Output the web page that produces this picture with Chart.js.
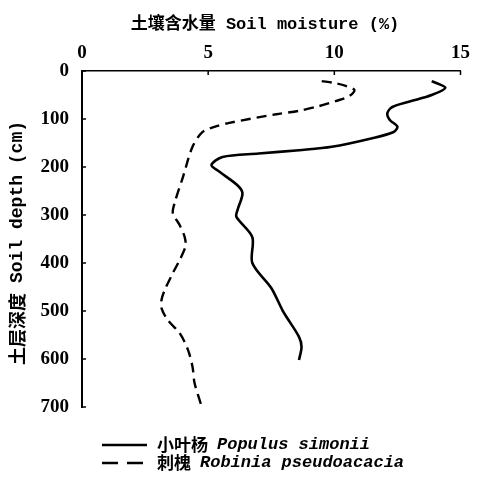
<!DOCTYPE html>
<html>

<head>
    <title>Soil moisture profile</title>
    <script src="https://cdn.jsdelivr.net/npm/chart.js@4/dist/chart.umd.min.js"></script>
    <style>
        body { margin: 0; background: #fff; }
    </style>
</head>

<body>
    <div style="width: 477px; height: 485px;">
        <canvas id="ctx"></canvas>
    </div>

    <script>
        // depth (cm) and soil moisture (%)
        const populusDepth = [21, 35, 50, 64, 75, 88, 102, 116, 127, 140, 158, 165, 172, 179, 196, 210, 238, 255, 290, 304, 346, 400, 452, 498, 512, 554, 575, 602];
        const populusMoisture = [13.86, 14.4, 13.86, 12.95, 12.3, 12.1, 12.2, 12.5, 12.35, 11.5, 9.9, 8.6, 7.0, 5.57, 5.13, 5.45, 6.16, 6.36, 6.16, 6.12, 6.75, 6.75, 7.5, 7.94, 8.1, 8.6, 8.7, 8.6];

        const robiniaDepth = [21, 25, 31, 40, 52, 62, 73, 83, 90, 108, 115, 127, 158, 221, 275, 296, 321, 346, 365, 394, 421, 456, 477, 494, 519, 546, 581, 616, 650, 700];
        const robiniaMoisture = [9.5, 10.0, 10.45, 10.8, 10.6, 10.1, 9.4, 8.6, 7.7, 5.84, 5.33, 4.78, 4.38, 4.0, 3.67, 3.6, 3.87, 4.07, 4.1, 3.87, 3.6, 3.28, 3.15, 3.15, 3.4, 3.87, 4.2, 4.38, 4.46, 4.75];

        const xTicks = [0, 5, 10, 15];
        const yTicks = [0, 100, 200, 300, 400, 500, 600, 700];

        const xTitle = '土壤含水量 Soil moisture (%)';
        const yTitleCn = '土层深度';
        const yTitleLatin = 'Soil depth (cm)';
        const legendItems = [
            { cn: '小叶杨', latin: 'Populus simonii', dash: [] },
            { cn: '刺槐', latin: 'Robinia pseudoacacia', dash: [16, 9] }
        ];

        const toPoints = (depth, moisture) => depth.map((d, i) => ({ x: moisture[i], y: d }));

        const mono = size => 'bold ' + size + 'px "Liberation Mono", "Noto Sans CJK SC", monospace';
        const monoItalic = 'bold italic 17px "Liberation Mono", monospace';
        const cjk = size => 'bold ' + size + 'px "Noto Sans CJK SC", sans-serif';

        // titles, inward ticks and the two-line legend
        const extras = {
            id: 'extras',
            afterDraw(chart) {
                const c = chart.ctx;
                const area = chart.chartArea;
                const xs = chart.scales.x;
                const ys = chart.scales.y;
                c.save();
                c.strokeStyle = '#000';
                c.fillStyle = '#000';

                // inward tick marks
                c.lineWidth = 1.5;
                c.beginPath();
                xTicks.forEach(v => {
                    const px = xs.getPixelForValue(v);
                    c.moveTo(px, area.top);
                    c.lineTo(px, area.top + 4);
                });
                yTicks.forEach(v => {
                    const py = ys.getPixelForValue(v);
                    c.moveTo(area.left, py);
                    c.lineTo(area.left + 4, py);
                });
                c.stroke();

                // x title
                c.textBaseline = 'middle';
                c.textAlign = 'center';
                c.font = mono(17);
                c.fillText(xTitle, 265, 25);

                // y title, rotated, centred on its own length
                c.save();
                c.translate(17, 243);
                c.rotate(-Math.PI / 2);
                c.textAlign = 'left';
                c.font = cjk(18);
                const wCn = c.measureText(yTitleCn).width;
                c.font = mono(18);
                const wLat = c.measureText(yTitleLatin).width;
                const gap = 10;
                let x0 = -(wCn + gap + wLat) / 2;
                c.font = cjk(18);
                c.fillText(yTitleCn, x0, 0);
                c.font = mono(18);
                c.fillText(yTitleLatin, x0 + wCn + gap, 0);
                c.restore();

                // legend
                c.textAlign = 'left';
                legendItems.forEach((item, i) => {
                    const y = 445 + i * 18;
                    c.lineWidth = 2.5;
                    c.setLineDash(item.dash);
                    c.beginPath();
                    c.moveTo(102, y);
                    c.lineTo(147, y);
                    c.stroke();
                    c.setLineDash([]);
                    c.font = cjk(17);
                    c.fillText(item.cn, 157, y);
                    const w = c.measureText(item.cn).width;
                    c.font = monoItalic;
                    c.fillText(item.latin, 157 + w + 9, y);
                });
                c.restore();
            }
        };

        const ctx = document.getElementById('ctx');

        var chart = new Chart(ctx, {
            type: 'scatter',
            data: {
                datasets: [{
                    label: 'Populus simonii',
                    data: toPoints(populusDepth, populusMoisture),
                    showLine: true,
                    borderColor: '#000',
                    borderWidth: 2.6,
                    pointRadius: 0,
                    tension: 0.3
                },
                {
                    label: 'Robinia pseudoacacia',
                    data: toPoints(robiniaDepth, robiniaMoisture),
                    showLine: true,
                    borderColor: '#000',
                    borderWidth: 2.4,
                    borderDash: [10, 6],
                    pointRadius: 0,
                    tension: 0.3
                }]
            },
            options: {
                responsive: true,
                maintainAspectRatio: false,
                animation: false,
                layout: {
                    padding: { left: 0, top: 0, right: 15, bottom: 78 }
                },
                plugins: {
                    legend: { display: false },
                    tooltip: { enabled: false }
                },
                scales: {
                    x: {
                        type: 'linear',
                        position: 'top',
                        min: 0,
                        max: 15,
                        afterFit: s => { s.height = 71; },
                        afterBuildTicks: s => { s.ticks = xTicks.map(v => ({ value: v })); },
                        grid: { display: false, drawTicks: false },
                        border: { display: true, color: '#000', width: 1.6 },
                        ticks: {
                            color: '#000',
                            padding: 7,
                            maxRotation: 0,
                            font: { family: '"Liberation Serif", serif', size: 19, weight: 'bold' }
                        }
                    },
                    y: {
                        type: 'linear',
                        reverse: true,
                        min: 0,
                        max: 700,
                        afterFit: s => { s.width = 82; },
                        afterBuildTicks: s => { s.ticks = yTicks.map(v => ({ value: v })); },
                        grid: { display: false, drawTicks: false },
                        border: { display: true, color: '#000', width: 2 },
                        ticks: {
                            color: '#000',
                            padding: 13,
                            font: { family: '"Liberation Serif", serif', size: 19, weight: 'bold' }
                        }
                    }
                }
            },
            plugins: [extras]
        });
    </script>
</body>

</html>
